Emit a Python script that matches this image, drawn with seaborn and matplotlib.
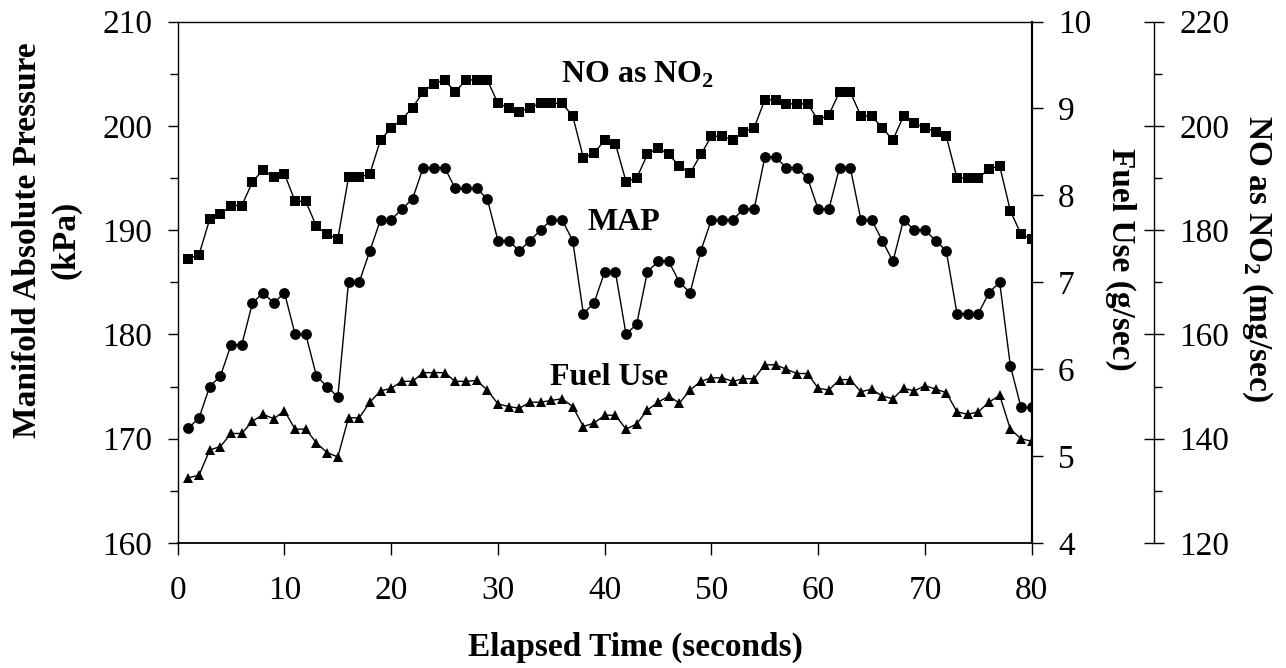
import matplotlib
matplotlib.use('Agg')
import matplotlib.pyplot as plt
import seaborn as sns
from matplotlib.ticker import MultipleLocator

# elapsed time, one reading per second
seconds = list(range(1, 81))

# manifold absolute pressure (kPa), left axis
map_kpa = [171, 172, 175, 176, 179, 179, 183, 184, 183, 184,
           180, 180, 176, 175, 174, 185, 185, 188, 191, 191,
           192, 193, 196, 196, 196, 194, 194, 194, 193, 189,
           189, 188, 189, 190, 191, 191, 189, 182, 183, 186,
           186, 180, 181, 186, 187, 187, 185, 184, 188, 191,
           191, 191, 192, 192, 197, 197, 196, 196, 195, 192,
           192, 196, 196, 191, 191, 189, 187, 191, 190, 190,
           189, 188, 182, 182, 182, 184, 185, 177, 173, 173]

# fuel use (g/sec), first right axis
fuel_gs = [4.75, 4.78, 5.07, 5.11, 5.26, 5.26, 5.40, 5.48, 5.43, 5.52,
           5.31, 5.31, 5.15, 5.04, 4.99, 5.44, 5.44, 5.62, 5.75, 5.78,
           5.86, 5.86, 5.96, 5.96, 5.96, 5.86, 5.86, 5.87, 5.76, 5.60,
           5.57, 5.55, 5.62, 5.62, 5.64, 5.66, 5.57, 5.34, 5.38, 5.47,
           5.47, 5.31, 5.37, 5.53, 5.62, 5.69, 5.61, 5.76, 5.86, 5.90,
           5.90, 5.86, 5.89, 5.89, 6.05, 6.05, 6.00, 5.95, 5.95, 5.78,
           5.76, 5.88, 5.88, 5.74, 5.77, 5.69, 5.66, 5.78, 5.75, 5.81,
           5.77, 5.73, 5.51, 5.48, 5.51, 5.62, 5.70, 5.31, 5.20, 5.17]

# NO as NO2 (mg/sec), second right axis
no2_mgs = [174.5, 175.3, 182.1, 183.0, 184.7, 184.7, 189.2, 191.6, 190.1, 190.8,
           185.5, 185.5, 180.7, 179.2, 178.3, 190.1, 190.1, 190.8, 197.3, 199.6,
           201.2, 203.5, 206.5, 208.1, 208.8, 206.5, 208.8, 208.8, 208.8, 204.3,
           203.5, 202.7, 203.5, 204.3, 204.3, 204.3, 201.9, 193.9, 194.7, 197.3,
           196.6, 189.3, 190.0, 194.5, 195.8, 194.5, 192.3, 190.9, 194.5, 198.0,
           198.0, 197.3, 198.9, 199.6, 205.0, 205.0, 204.2, 204.2, 204.2, 201.1,
           202.1, 206.5, 206.5, 201.9, 201.9, 199.6, 197.3, 201.9, 200.5, 199.6,
           198.9, 198.0, 190.0, 190.0, 190.0, 191.7, 192.3, 183.7, 179.2, 178.3]

sns.set_style('ticks')
plt.rcParams['font.family'] = ['Liberation Serif', 'DejaVu Serif']
plt.rcParams['text.color'] = 'black'
plt.rcParams['axes.labelcolor'] = 'black'
plt.rcParams['mathtext.fontset'] = 'custom'
plt.rcParams['mathtext.rm'] = 'Liberation Serif'
plt.rcParams['mathtext.bf'] = 'Liberation Serif:bold'

W, H = 1286, 668
fig = plt.figure(figsize=(W / 100, H / 100), dpi=100)
ax = fig.add_axes([177.7 / W, 1 - 543 / H, 854 / W, 521.5 / H])
ax_fuel = ax.twinx()
ax_no = ax.twinx()
ax_no.spines['right'].set_position(('axes', (1154 - 177.7) / 854))

line_kw = dict(color='black', linewidth=1.0, markersize=7.8,
               markeredgewidth=0, markeredgecolor='black')
sns.lineplot(x=seconds, y=no2_mgs, ax=ax_no, marker='s', **line_kw)
sns.lineplot(x=seconds, y=map_kpa, ax=ax, marker='o', **line_kw)
sns.lineplot(x=seconds, y=fuel_gs, ax=ax_fuel, marker='^', **line_kw)

# axis ranges
ax.set_xlim(0, 80)
ax.set_ylim(160, 210)
ax_fuel.set_ylim(4, 10)
ax_no.set_ylim(120, 220)
ax.xaxis.set_major_locator(MultipleLocator(10))
ax.yaxis.set_major_locator(MultipleLocator(10))
ax.yaxis.set_minor_locator(MultipleLocator(5))
ax_fuel.yaxis.set_major_locator(MultipleLocator(1))
ax_no.yaxis.set_major_locator(MultipleLocator(20))
ax_no.yaxis.set_minor_locator(MultipleLocator(10))
for a in (ax, ax_fuel, ax_no):
    a.set_xlabel('')
    a.set_ylabel('')

# spines
ax.spines['right'].set_visible(False)
for s in ('left', 'top'):
    ax.spines[s].set_linewidth(1.0)
ax.spines['bottom'].set_linewidth(1.3)
for a in (ax_fuel, ax_no):
    for s in ('left', 'top', 'bottom'):
        a.spines[s].set_visible(False)
ax_fuel.spines['right'].set_linewidth(1.6)
ax_no.spines['right'].set_linewidth(1.0)
for a in (ax, ax_fuel, ax_no):
    for s in a.spines.values():
        s.set_color('black')

# ticks
ax.tick_params(axis='x', which='major', direction='out', length=8.5, width=1,
               labelsize=24, pad=15, colors='black')
ax.tick_params(axis='y', which='major', direction='out', length=7.5, width=1,
               labelsize=24, pad=11, colors='black')
ax.tick_params(axis='y', which='minor', direction='out', length=6, width=1, colors='black')
ax_fuel.tick_params(axis='y', which='major', direction='out', length=8, width=1,
                    labelsize=24, pad=11, colors='black')
ax_no.tick_params(axis='y', which='major', direction='inout', length=14.5, width=1,
                  labelsize=24, pad=11, colors='black')
ax_no.tick_params(axis='y', which='minor', direction='out', length=6, width=1, colors='black')

# series labels
lab_kw = dict(fontsize=23, fontweight='bold', ha='center', va='center', color='black')
ax.text(43.1, 204.9, 'NO as NO$_\\mathbf{2}$', **lab_kw)
ax.text(41.8, 190.7, 'MAP', **lab_kw)
ax.text(40.4, 175.9, 'Fuel Use', **lab_kw)

# axis titles
ttl_kw = dict(fontsize=24, fontweight='bold', ha='center', va='center', color='black')
fig.text(635.5 / W, 1 - 647 / H, 'Elapsed Time (seconds)', **ttl_kw)
fig.text(47 / W, 1 - 240 / H, 'Manifold Absolute Pressure\n(kPa)',
         rotation=90, linespacing=1.3, **ttl_kw)
fig.text(1121 / W, 1 - 259 / H, 'Fuel Use (g/sec)', rotation=-90, **ttl_kw)
fig.text(1257 / W, 1 - 259 / H, 'NO as NO$_\\mathbf{2}$ (mg/sec)', rotation=-90, **ttl_kw)

fig.savefig('out.png', dpi=100)
